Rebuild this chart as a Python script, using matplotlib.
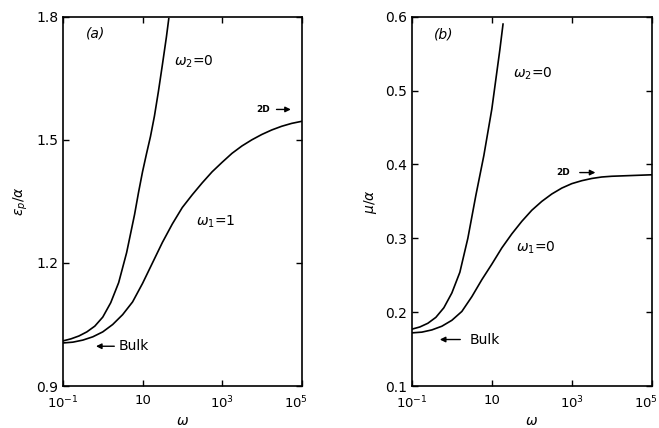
import matplotlib
matplotlib.use("Agg")
import matplotlib.pyplot as plt
import matplotlib.transforms as mtransforms
import numpy as np

# ---- data (log10 omega, value) ----
a_w2_logw = [-1.0, -0.8, -0.6, -0.4, -0.2, 0.0, 0.2, 0.4, 0.6, 0.8, 0.9, 1.0, 1.1, 1.2, 1.3, 1.4, 1.5, 1.6, 1.66]
a_w2_val = [1.010, 1.015, 1.022, 1.032, 1.046, 1.068, 1.103, 1.152, 1.225, 1.318, 1.372, 1.422, 1.466,
            1.508, 1.558, 1.618, 1.683, 1.750, 1.795]

a_w1_logw = [-1.0, -0.75, -0.5, -0.25, 0.0, 0.25, 0.5, 0.75, 1.0, 1.25, 1.5, 1.75, 2.0, 2.25, 2.5,
             2.75, 3.0, 3.25, 3.5, 3.75, 4.0, 4.25, 4.5, 4.75, 5.0]
a_w1_val = [1.005, 1.007, 1.012, 1.020, 1.032, 1.050, 1.074, 1.105, 1.150, 1.200, 1.250, 1.295, 1.335,
            1.366, 1.395, 1.422, 1.445, 1.467, 1.485, 1.500, 1.513, 1.524, 1.533, 1.540, 1.545]

b_w2_logw = [-1.0, -0.8, -0.6, -0.4, -0.2, 0.0, 0.2, 0.4, 0.6, 0.8, 1.0, 1.2, 1.28]
b_w2_val = [0.177, 0.180, 0.185, 0.193, 0.206, 0.226, 0.254, 0.300, 0.358, 0.412, 0.475, 0.555, 0.590]

b_w1_logw = [-1.0, -0.75, -0.5, -0.25, 0.0, 0.25, 0.5, 0.75, 1.0, 1.25, 1.5, 1.75, 2.0, 2.25, 2.5,
             2.75, 3.0, 3.25, 3.5, 3.75, 4.0, 4.5, 5.0]
b_w1_val = [0.172, 0.173, 0.176, 0.181, 0.189, 0.201, 0.221, 0.244, 0.265, 0.287, 0.306, 0.323, 0.338,
            0.350, 0.360, 0.368, 0.374, 0.378, 0.381, 0.383, 0.384, 0.385, 0.386]

x_ticks = [0.1, 10, 1e3, 1e5]
x_ticklabels = [r'$10^{-1}$', '10', r'$10^{3}$', r'$10^{5}$']
a_yticks = [0.9, 1.2, 1.5, 1.8]
b_yticks = [0.1, 0.2, 0.3, 0.4, 0.5, 0.6]

fig = plt.figure(figsize=(6.59, 4.28), dpi=100)
axA = fig.add_axes([0.0956, 0.098, 0.362, 0.863])
axB = fig.add_axes([0.625, 0.098, 0.364, 0.863])

lw = 1.2
fs = 10

def style(ax, yticks, ylim):
    ax.set_xscale('log')
    ax.set_xlim(0.1, 1e5)
    ax.set_ylim(*ylim)
    ax.set_xticks(x_ticks)
    ax.set_xticklabels(x_ticklabels)
    ax.minorticks_off()
    ax.set_yticks(yticks)
    ax.set_yticklabels(['%.1f' % v for v in yticks])
    ax.tick_params(direction='in', top=True, right=True, length=4, width=1, labelsize=fs)
    ax.tick_params(axis='x', pad=6, labelsize=9.5)
    for s in ax.spines.values():
        s.set_linewidth(1.2)
    ax.set_xlabel(r'$\omega$', fontsize=fs, labelpad=2)
    # nudge the last x tick label left so it stays inside the figure
    last = ax.get_xticklabels()[-1]
    last.set_transform(last.get_transform() +
                       mtransforms.ScaledTranslation(-6 / 100, 0, fig.dpi_scale_trans))

style(axA, a_yticks, (0.9, 1.8))
style(axB, b_yticks, (0.1, 0.6))

axA.plot(10 ** np.array(a_w2_logw), a_w2_val, color='black', lw=lw)
axA.plot(10 ** np.array(a_w1_logw), a_w1_val, color='black', lw=lw)
axB.plot(10 ** np.array(b_w2_logw), b_w2_val, color='black', lw=lw)
axB.plot(10 ** np.array(b_w1_logw), b_w1_val, color='black', lw=lw)

axA.set_ylabel(r'$\varepsilon_p/\alpha$', fontsize=fs)
axB.set_ylabel(r'$\mu/\alpha$', fontsize=fs)

# annotations panel (a)
axA.text(10 ** -0.17, 1.76, '(a)', ha='center', va='center', fontsize=fs, style='italic')
axA.text(10 ** 2.28, 1.69, r'$\omega_2$=0', ha='center', va='center', fontsize=fs)
axA.text(10 ** 2.84, 1.30, r'$\omega_1$=1', ha='center', va='center', fontsize=fs)
axA.text(10 ** 4.03, 1.574, '2D', ha='center', va='center', fontsize=6.5, weight='bold')
axA.annotate('', xy=(10 ** 4.8, 1.574), xytext=(10 ** 4.3, 1.574),
             arrowprops=dict(arrowstyle='-|>', color='black', lw=1, mutation_scale=8))
axA.annotate('', xy=(10 ** -0.24, 0.997), xytext=(10 ** 0.36, 0.997),
             arrowprops=dict(arrowstyle='-|>', color='black', lw=1, mutation_scale=8))
axA.text(10 ** 0.39, 0.997, 'Bulk', ha='left', va='center', fontsize=fs)

# annotations panel (b)
axB.text(10 ** -0.2, 0.576, '(b)', ha='center', va='center', fontsize=fs, style='italic')
axB.text(10 ** 2.03, 0.523, r'$\omega_2$=0', ha='center', va='center', fontsize=fs)
axB.text(10 ** 2.1, 0.287, r'$\omega_1$=0', ha='center', va='center', fontsize=fs)
axB.text(10 ** 2.78, 0.389, '2D', ha='center', va='center', fontsize=6.5, weight='bold')
axB.annotate('', xy=(10 ** 3.66, 0.389), xytext=(10 ** 3.13, 0.389),
             arrowprops=dict(arrowstyle='-|>', color='black', lw=1, mutation_scale=8))
axB.annotate('', xy=(10 ** -0.37, 0.163), xytext=(10 ** 0.28, 0.163),
             arrowprops=dict(arrowstyle='-|>', color='black', lw=1, mutation_scale=8))
axB.text(10 ** 0.45, 0.163, 'Bulk', ha='left', va='center', fontsize=fs)

fig.savefig('out.png', dpi=100)
